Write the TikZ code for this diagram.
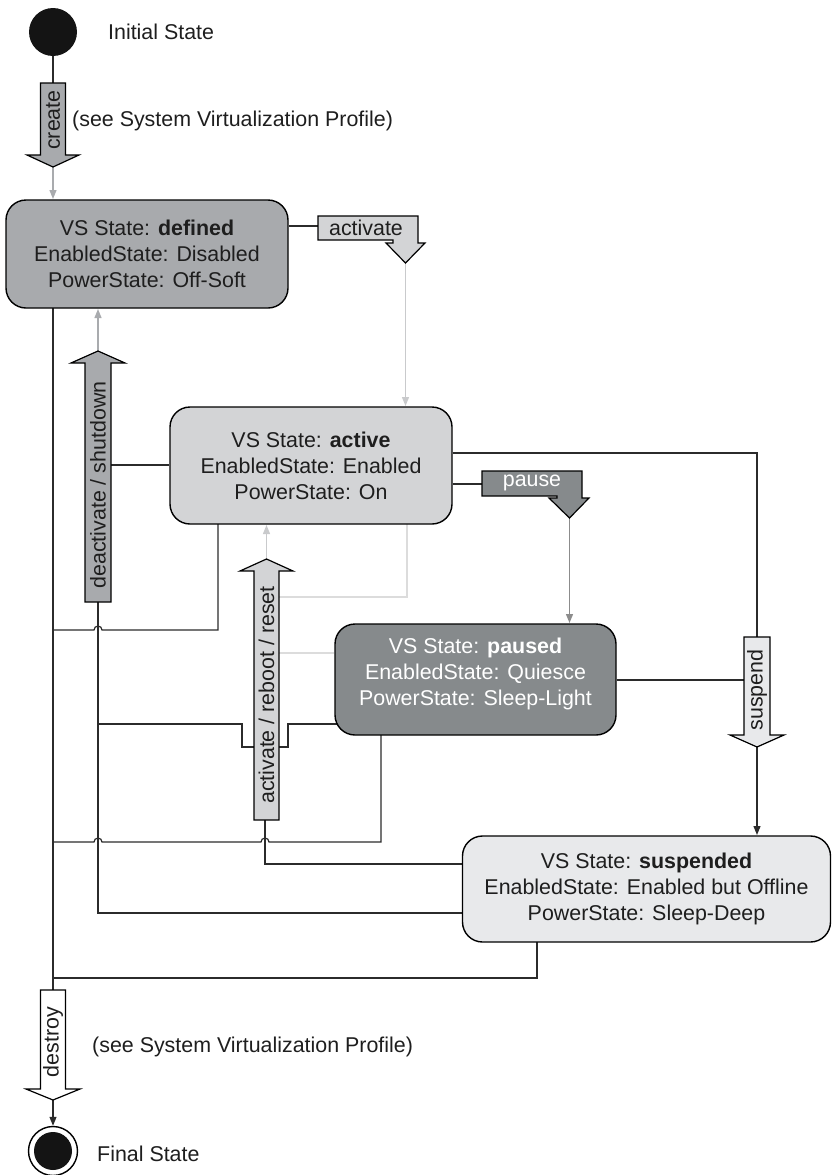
\documentclass[tikz,border=0pt]{standalone}
\usepackage{fontspec}
\setmainfont{Liberation Sans}
\usetikzlibrary{arrows.meta,backgrounds}
\definecolor{cdef}{HTML}{A8AAAD}
\definecolor{cact}{HTML}{D3D4D6}
\definecolor{cpau}{HTML}{868A8C}
\definecolor{csus}{HTML}{E8E9EB}
\definecolor{cln}{HTML}{2B2B2B}
\definecolor{cgr}{HTML}{A9ABAE}
\definecolor{cmid}{HTML}{8C8C8C}
\definecolor{clt}{HTML}{C9CACC}
\definecolor{cvlt}{HTML}{DCDCDC}
\definecolor{ctxt}{HTML}{1E1E1E}
\begin{document}
\begin{tikzpicture}[x=1pt,y=-1pt,
  every node/.style={font=\fontsize{21.4}{26}\selectfont, text=ctxt},
  state/.style={draw=black, line width=1.4pt, rounded corners=20pt, inner sep=0pt, align=center},
  conn/.style={draw=cln, line width=1.2pt},
  tipa/.style={-{Triangle[length=9pt,width=7pt]}},
  barrow/.style={draw=black, line width=1.2pt, line join=miter},
  vlabel/.style={rotate=90, inner sep=0pt},
  note/.style={anchor=west, inner sep=0pt}]
\useasboundingbox (0,0) rectangle (832,1175);

% ---------- states ----------
\node[circle, fill=black!92, minimum size=48pt, inner sep=0pt] (init) at (53,32) {};
\node[note] (initlbl) at (108,32) {Initial State};
\node[state, fill=cdef, minimum width=282pt, minimum height=108pt] (defined) at (147,254)
  {VS State: \textbf{defined}\\EnabledState: Disabled\\PowerState: Off-Soft};
\node[state, fill=cact, minimum width=282pt, minimum height=117pt] (active) at (311,465.5)
  {VS State: \textbf{active}\\EnabledState: Enabled\\PowerState: On};
\node[state, fill=cpau, minimum width=281pt, minimum height=111pt] (paused) at (475.5,679.5) {};
\node[text=white, align=center, inner sep=0pt] (pausedtxt) at (475.5,674)
  {VS State: \textbf{paused}\\EnabledState: Quiesce\\PowerState: Sleep-Light};
\node[state, fill=csus, minimum width=368pt, minimum height=106pt] (suspended) at (646.5,889)
  {VS State: \textbf{suspended}\\EnabledState: Enabled but Offline\\PowerState: Sleep-Deep};
\node[circle, draw=black, line width=1.4pt, fill=white, minimum size=49pt, inner sep=0pt] (final) at (53,1151) {};
\node[circle, fill=black!92, minimum size=38pt, inner sep=0pt] (finalin) at (53,1151) {};
\node[note] (finallbl) at (97,1154) {Final State};

% ---------- block arrows ----------
\draw[barrow, fill=cdef] (40.5,83) -- (65.5,83) -- (65.5,155) -- (79,155) -- (53,167) -- (27,155) -- (40.5,155) -- cycle;
\node[vlabel] (createtxt) at (53,120) {create};
\node[note] (createnote) at (72,121) {(see System Virtualization Profile)};

\draw[barrow, fill=cact] (318,216) -- (418,216) -- (418,243) -- (425,243) -- (405.5,263) -- (386,243) -- (393,243) -- (393,240) -- (318,240) -- cycle;
\node[inner sep=0pt] (activatetxt) at (366,228) {activate};

\draw[barrow, fill=cdef] (85,602) -- (85,363) -- (71,363) -- (98,351) -- (125,363) -- (111,363) -- (111,602) -- cycle;
\node[vlabel] (deacttxt) at (98,485) {deactivate / shutdown};

\draw[barrow, fill=cpau] (482,471) -- (582,471) -- (582,498) -- (589,498) -- (569.5,518) -- (549,498) -- (557,498) -- (557,496) -- (482,496) -- cycle;
\node[inner sep=0pt, text=white] (pausetxt) at (532,483) {pause};

\draw[barrow, fill=cact] (254,820) -- (254,571) -- (240,571) -- (266.5,559) -- (293,571) -- (279,571) -- (279,820) -- cycle;
\node[vlabel] (reboottxt) at (266.5,695) {activate / reboot / reset};

\draw[barrow, fill=csus] (744,637) -- (770,637) -- (770,735) -- (784,735) -- (757,747) -- (730,735) -- (744,735) -- cycle;
\node[vlabel] (suspendtxt) at (757,690) {suspend};

\draw[barrow, fill=white] (40.5,990) -- (65.5,990) -- (65.5,1089) -- (80,1089) -- (53,1100) -- (26,1089) -- (40.5,1089) -- cycle;
\node[vlabel] (destroytxt) at (53,1042) {destroy};
\node[note] (destroynote) at (92,1047) {(see System Virtualization Profile)};

% ---------- connectors ----------
\begin{pgfonlayer}{background}
\draw[conn] (init) -- (53,83);
\draw[conn, draw=cgr, tipa] (53,167) -- (53,199);
\draw[conn] (defined.east |- 0,226) -- (318,226);
\draw[conn, draw=clt, tipa] (405.5,263) -- (405.5,406);
\draw[conn] (active.west |- 0,465) -- (111,465);
\draw[conn, draw=cgr, tipa] (98,351) -- (98,309);
\draw[conn] (53,308) -- (53,990);
\draw[conn] (218,524) -- (218,630) -- (102,630) arc[start angle=0,end angle=180,radius=4pt] -- (53,630);
\draw[conn] (98,602) -- (98,913) -- (463,913);
\draw[conn] (337,724) -- (288,724) -- (288,747) -- (279,747);
\draw[conn] (254,747) -- (242,747) -- (242,724) -- (98,724);
\draw[conn] (381,735) -- (381,842) -- (269,842) arc[start angle=0,end angle=180,radius=4pt] -- (102,842) arc[start angle=0,end angle=180,radius=4pt] -- (53,842);
\draw[conn] (463,864) -- (265,864) -- (265,820);
\draw[conn] (537,942) -- (537,978) -- (53,978);
\draw[conn] (active.east |- 0,453) -- (757,453) -- (757,637);
\draw[conn] (active.east |- 0,484) -- (482,484);
\draw[conn, draw=cmid, tipa] (569.5,518) -- (569.5,623);
\draw[conn] (paused.east |- 0,680) -- (744,680);
\draw[conn, tipa] (757,747) -- (757,835);
\draw[conn, draw=clt, tipa] (266.5,559) -- (266.5,525);
\draw[conn, draw=cvlt] (407,524) -- (407,597) -- (279,597);
\draw[conn, draw=cvlt] (paused.west |- 0,653) -- (279,653);
\draw[conn, tipa] (53,1100) -- (final);
\end{pgfonlayer}
\end{tikzpicture}
\end{document}
